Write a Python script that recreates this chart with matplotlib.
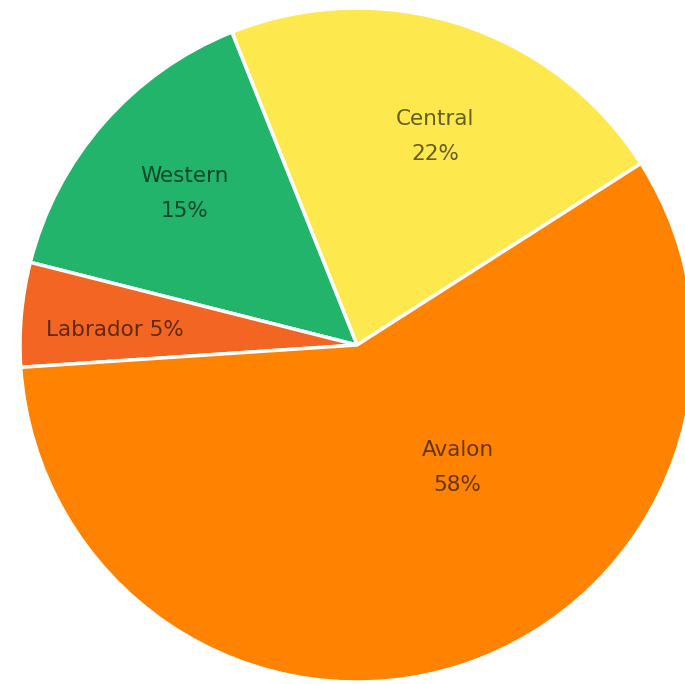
import numpy as np
import matplotlib
matplotlib.use("Agg")
import matplotlib.pyplot as plt

regions = ["Central", "Western", "Labrador", "Avalon"]
shares = [22, 15, 5, 58]
colors = ["#FDE84E", "#21B46A", "#F26522", "#FF8200"]

fig = plt.figure(figsize=(6.85, 6.84), dpi=100)
ax = fig.add_axes([0, 0, 1, 1])

cx, cy, r = 357, 339, 337
wedges, _ = ax.pie(shares, colors=colors, startangle=32.6, counterclock=True,
                   center=(cx, cy), radius=r,
                   wedgeprops=dict(edgecolor="white", linewidth=2.5))
ax.set_xlim(0, 685)
ax.set_ylim(0, 684)
ax.set_aspect("equal")
ax.axis("off")

# label placement (fraction of radius, angle)
label_pos = {"Central": (0.66, 69.5), "Western": (0.68, 138.7),
             "Labrador": (0.72, 176.5), "Avalon": (0.47, -50.6)}

for w, name, val in zip(wedges, regions, shares):
    frac, ang = label_pos[name]
    x = cx + frac * r * np.cos(np.radians(ang))
    y = cy + frac * r * np.sin(np.radians(ang))
    txt = f"{name} {val}%" if name == "Labrador" else f"{name}\n{val}%"
    ax.text(x, y, txt, ha="center", va="center", fontsize=15.5,
            color="black", alpha=0.6, linespacing=1.95, family="DejaVu Sans")

fig.savefig("out.png", dpi=100)
